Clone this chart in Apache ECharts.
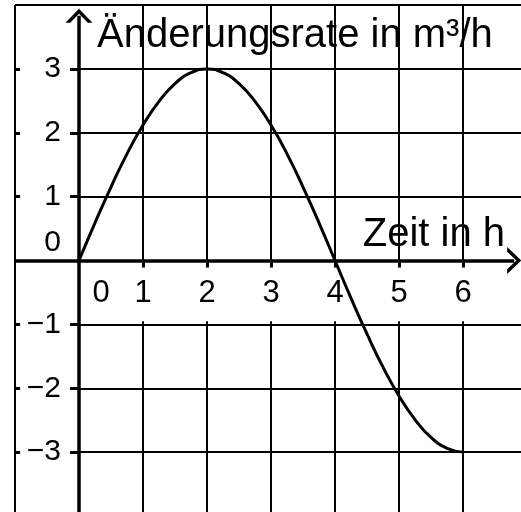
<!DOCTYPE html>
<html lang="de">
<head>
<meta charset="UTF-8">
<script src="https://cdn.jsdelivr.net/npm/echarts@6/dist/echarts.min.js"></script>
<title>Änderungsrate</title>
<style>html,body{margin:0;padding:0;background:#fff;}</style>
</head>
<body>
<div id="main" style="width:521px;height:512px;"></div>
<script type="text/javascript">
var hours = [0, 0.25, 0.5, 0.75, 1, 1.25, 1.5, 1.75, 2, 2.25, 2.5, 2.75, 3,
             3.25, 3.5, 3.75, 4, 4.25, 4.5, 4.75, 5, 5.25, 5.5, 5.75, 6];
var rate = [0, 0.59, 1.15, 1.67, 2.12, 2.49, 2.77, 2.94, 3, 2.94, 2.77, 2.49, 2.12,
            1.67, 1.15, 0.59, 0, -0.59, -1.15, -1.67, -2.12, -2.49, -2.77, -2.94, -3];

var xTickValues = [0, 1, 2, 3, 4, 5, 6];
var xTickLabels = ['0', '1', '2', '3', '4', '5', '6'];
var yTickValues = [3, 2, 1, 0, -1, -2, -3];
var yTickLabels = ['3', '2', '1', '0', '−1', '−2', '−3'];

// Gitterlinien (Kästchen)
var xGrid = [1, 2, 3, 4, 5, 6];
var yGrid = [3, 2, 1, -1, -2, -3];

var font = 'Liberation Sans, Arial, sans-serif';
var chevron = 'path://M0,10 L10,0 L20,10 L16.5,10 L10,3.5 L3.5,10 Z';

function seg(x1, y1, x2, y2, w) {
    var a = { coord: [x1, y1] };
    if (w) a.lineStyle = { width: w };
    return [a, { coord: [x2, y2] }];
}

var gridLines = [];
gridLines.push(seg(-1, -4, -1, 4));   // Rand links
gridLines.push(seg(-1, 4, 7, 4));     // Rand oben
xGrid.forEach(function (x) {
    gridLines.push(seg(x, 0, x, 4));
    gridLines.push(seg(x, -0.95, x, -4));
    gridLines.push(seg(x, 0, x, -0.11, 3));       // Striche an der Zeitachse
});
yGrid.forEach(function (y) {
    gridLines.push(seg(0, y, 7, y));
    gridLines.push(seg(-1, y, -0.92, y, 3));      // Striche am Rand
    gridLines.push(seg(-0.14, y, 0, y, 3));       // Striche an der Hochachse
});

var axisLines = [
    [{ coord: [-1, 0], symbol: 'none' }, { coord: [6.8, 0], symbol: chevron, symbolSize: [27, 14] }],
    [{ coord: [0, -4], symbol: 'none' }, { coord: [0, 3.83], symbol: chevron, symbolSize: [27, 14] }]
];

var myChart = echarts.init(document.getElementById('main'));

var option = {
    backgroundColor: '#fff',
    animation: false,
    title: [
        {
            text: 'Änderungsrate in m³/h',
            left: 97, top: 16, padding: 0,
            textStyle: { fontFamily: font, fontSize: 40, fontWeight: 'normal', color: '#000' }
        },
        {
            text: 'Zeit in h',
            right: 16, top: 215, padding: 0,
            textStyle: { fontFamily: font, fontSize: 40, fontWeight: 'normal', color: '#000' }
        }
    ],
    grid: { left: 15, right: -6, top: 5, bottom: -4, containLabel: false, outerBoundsMode: 'none' },
    xAxis: {
        type: 'value', min: -1, max: 7, interval: 1,
        position: 'bottom', offset: -255.5,
        axisLine: { show: false, onZero: false },
        axisTick: { show: false },
        splitLine: { show: false },
        axisLabel: {
            margin: 17, fontFamily: font, fontSize: 31, color: '#000',
            showMinLabel: true, showMaxLabel: true,
            formatter: function (v) {
                var i = xTickValues.indexOf(v);
                if (i < 0) return '';
                return v === 0 ? '{o|' + xTickLabels[i] + '}' : xTickLabels[i];
            },
            rich: { o: { fontFamily: font, fontSize: 31, color: '#000', padding: [0, 0, 0, 44] } }
        }
    },
    yAxis: {
        type: 'value', min: -4, max: 4, interval: 1,
        position: 'left', offset: -64,
        axisLine: { show: false, onZero: false },
        axisTick: { show: false },
        splitLine: { show: false },
        axisLabel: {
            margin: 18, fontFamily: font, fontSize: 30, color: '#000',
            formatter: function (v) {
                var i = yTickValues.indexOf(v);
                if (i < 0) return '';
                return v === 0 ? '{z|' + yTickLabels[i] + '}' : yTickLabels[i];
            },
            rich: { z: { fontFamily: font, fontSize: 30, color: '#000', padding: [0, 0, 36, 0] } }
        }
    },
    series: [
        {
            name: 'Gitter', type: 'line', data: [], z: 1,
            markLine: {
                silent: true, symbol: ['none', 'none'],
                label: { show: false },
                lineStyle: { color: '#000', width: 2, type: 'solid' },
                data: gridLines
            }
        },
        {
            name: 'Achsen', type: 'line', data: [], z: 2,
            markLine: {
                silent: true, symbol: ['none', 'none'],
                label: { show: false },
                lineStyle: { color: '#000', width: 3.5, type: 'solid' },
                data: axisLines
            }
        },
        {
            name: 'Änderungsrate', type: 'line', z: 3,
            data: hours.map(function (h, i) { return [h, rate[i]]; }),
            smooth: true, showSymbol: false,
            lineStyle: { color: '#000', width: 3 }
        }
    ]
};

myChart.setOption(option);
</script>
</body>
</html>
